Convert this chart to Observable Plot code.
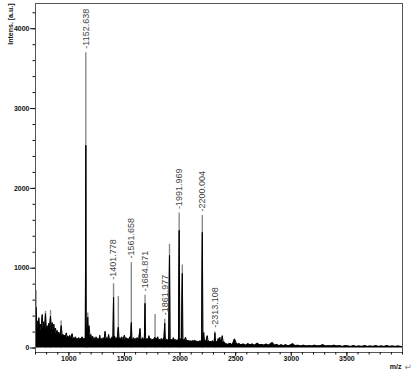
<!DOCTYPE html>
<html><head><meta charset="utf-8">
<script src="https://cdn.jsdelivr.net/npm/d3@7"></script>
<script src="https://cdn.jsdelivr.net/npm/@observablehq/plot@0.6"></script>
<style>
html,body{margin:0;padding:0;background:#fff;}
#chart svg{display:block;}
</style></head><body><div id="chart"></div>
<script>
// black (processed) trace: m/z and intensity [a.u.]
const traceMz = [700,705,712,718,725,730,738,745,752,760,768,775,782,790,798,805,812,820,828,835,842,850,858,865,872,880,888,895,902,910,918,925,932,940,948,955,962,970,978,985,992,1000,1008,1015,1022,1030,1038,1045,1052,1060,1068,1075,1082,1090,1098,1105,1112,1120,1128,1135,1142,1148,1152.6,1157,1163,1170,1176,1182,1190,1198,
1206,1214,1222,1230,1238,1246,1254,1262,1270,1278,1286,1294,1302,1310,1318,1326,1334,1342,1350,1358,1366,1374,1382,1390,1397,1401.8,1406,1412,1420,1428,1436,1445,1452,1460,1468,1476,1484,1492,1500,1508,1516,1524,1532,1540,1548,1556,1561.7,1567,1574,1582,1590,1598,1606,1614,1622,1630,1640,1648,1656,1664,1672,1679,1684.9,1690,1697,1705,1713,1720,1728,1736,1744,1752,1760,1768,1775,1782,1790,1800,1808,1816,1824,1832,1840,1848,1856,1862,1867,1874,1882,1890,1898,1905,1911,1918,1926,1934,1940,1948,1956,1964,1972,1980,1986,1992,1998,2006,2013,2020,2026,2034,2042,2050,2058,2066,2074,2082,2090,2098,2106,2114,2122,2130,2138,2146,2154,2162,2170,2178,2186,2194,2200,2206,2213,2220,2228,2236,2245,2252,2260,2268,2276,2284,2292,2300,2307,2313.1,2320,2328,2336,2344,2350,2358,2366,2373,2380,2388,2396,2404,
2410,2430,2450,2470,2490,2510,2530,2550,2570,2590,2610,2630,2650,2670,2695,2715,2735,2755,2775,2795,2830,2850,2870,2890,2910,2930,2950,2970,2990,3013,3035,3060,3085,3110,3135,3160,3185,3210,3235,3260,3285,3310,3335,3360,3385,3410,3435,3460,3485,3510,3535,3560,3585,3610,3635,3660,3685,3710,3735,3760,3785,3810,3835,3860,3885,3910,3935,3960,3985,4000];
const traceInt = [200,510,270,340,240,380,250,300,220,420,240,330,220,430,230,280,210,310,260,400,230,320,210,300,200,250,180,220,170,200,160,180,280,150,170,140,160,140,190,130,150,120,160,120,140,180,110,130,110,140,100,120,110,130,100,120,110,140,100,120,110,130,2540,150,250,385,200,280,150,170,
110,150,100,130,90,140,100,120,90,160,100,120,90,130,100,210,110,130,100,170,100,120,95,140,110,635,120,150,100,130,110,260,110,130,100,140,100,120,160,100,130,95,120,100,140,110,320,120,100,130,95,120,90,130,100,120,245,110,100,130,95,120,560,130,100,120,95,155,100,120,90,110,95,120,135,100,110,140,90,110,85,120,90,110,130,310,140,90,110,85,120,1160,120,90,110,85,130,90,110,85,100,90,120,1475,130,100,120,935,120,90,100,135,85,100,80,95,75,90,80,95,75,100,80,90,70,85,75,90,80,100,1450,120,195,90,80,100,155,80,90,70,85,70,90,80,75,190,70,85,70,120,70,135,75,90,155,70,80,60,
55,45,60,40,115,45,55,40,50,35,55,40,50,35,60,40,45,35,50,35,70,35,45,30,40,30,40,30,35,55,30,35,25,35,25,30,25,35,25,30,40,25,30,25,35,25,30,20,30,25,20,30,20,25,20,30,20,25,20,30,20,25,20,30,20,25,20,25,20,15];

// gray (raw) trace peak tops
const grayMz  = [705,790,835,930,1152.6,1170,1401.8,1445,1561.7,1684.9,1775,1862,1905,1992,2020,2200,2313.1];
const grayInt = [720,460,470,340,3700,440,805,645,1070,660,420,360,1300,1690,1040,1660,205];

// labelled peaks
const peakLabels   = ["1152.638","1401.778","1561.658","1684.871","1861.977","1991.969","2200.004","2313.108"];
const peakLabelInt = [3700,805,1070,660,360,1690,1660,205];

const xTicks = [1000,1500,2000,2500,3000,3500];
const yTicks = [0,1000,2000,3000,4000];
const xLabel = "m/z";
const yLabel = "Intens. [a.u.]";

const trace = traceMz.map((mz, i) => ({mz, v: traceInt[i]}));
const gray = grayMz.map((mz, i) => ({mz, v: grayInt[i]}));
const labels = peakLabels.map((t, i) => ({mz: +t, v: peakLabelInt[i], t: "-" + t}));

const font = "'Liberation Sans', Arial, sans-serif";
const plain = d => String(d);
const chart = Plot.plot({
  width: 413, height: 376,
  marginLeft: 35, marginRight: 11, marginTop: 3, marginBottom: 24,
  style: {fontFamily: font, fontSize: "7px", color: "#111", background: "#fff"},
  x: {domain: [700, 4000]},
  y: {domain: [-56, 4316]},
  marks: [
    Plot.ruleX(gray, {x: "mz", y1: 0, y2: "v", stroke: "#8a8a8a", strokeWidth: 1.4}),
    Plot.areaY(trace, {x: "mz", y: "v", fill: "#000"}),
    Plot.lineY(trace, {x: "mz", y: "v", stroke: "#000", strokeWidth: 1}),
    Plot.text(labels, {x: "mz", y: "v", text: "t", rotate: -90, textAnchor: "start", dy: -4, fontSize: 9, fill: "#444"}),
    Plot.frame({stroke: "#555"}),
    Plot.axisX({ticks: xTicks, tickSize: 4, tickPadding: 0, tickFormat: plain, label: null, fontWeight: "bold", fontSize: 7}),
    Plot.axisX({interval: 100, tickSize: 2.5, tickFormat: () => "", label: null}),
    Plot.axisY({ticks: yTicks, tickSize: 5, tickPadding: 1, tickFormat: plain, label: null, fontWeight: "bold", fontSize: 7}),
    Plot.axisY({interval: 200, tickSize: 2.5, tickFormat: () => "", label: null}),
    Plot.text([yLabel], {frameAnchor: "top-left", text: d => d, rotate: -90, textAnchor: "end", dx: -27, fontWeight: "bold", fontSize: 7}),
    Plot.text([xLabel], {frameAnchor: "bottom-right", text: d => d, textAnchor: "end", dx: -1, dy: 16, fontWeight: "bold", fontSize: 7}),
    Plot.text(["\u21B5"], {frameAnchor: "bottom-right", text: d => d, textAnchor: "start", dx: 2, dy: 17, fontSize: 9, fill: "#888", fontFamily: "'DejaVu Sans', sans-serif"})
  ]
});
document.getElementById("chart").appendChild(chart);
</script>
</body></html>
